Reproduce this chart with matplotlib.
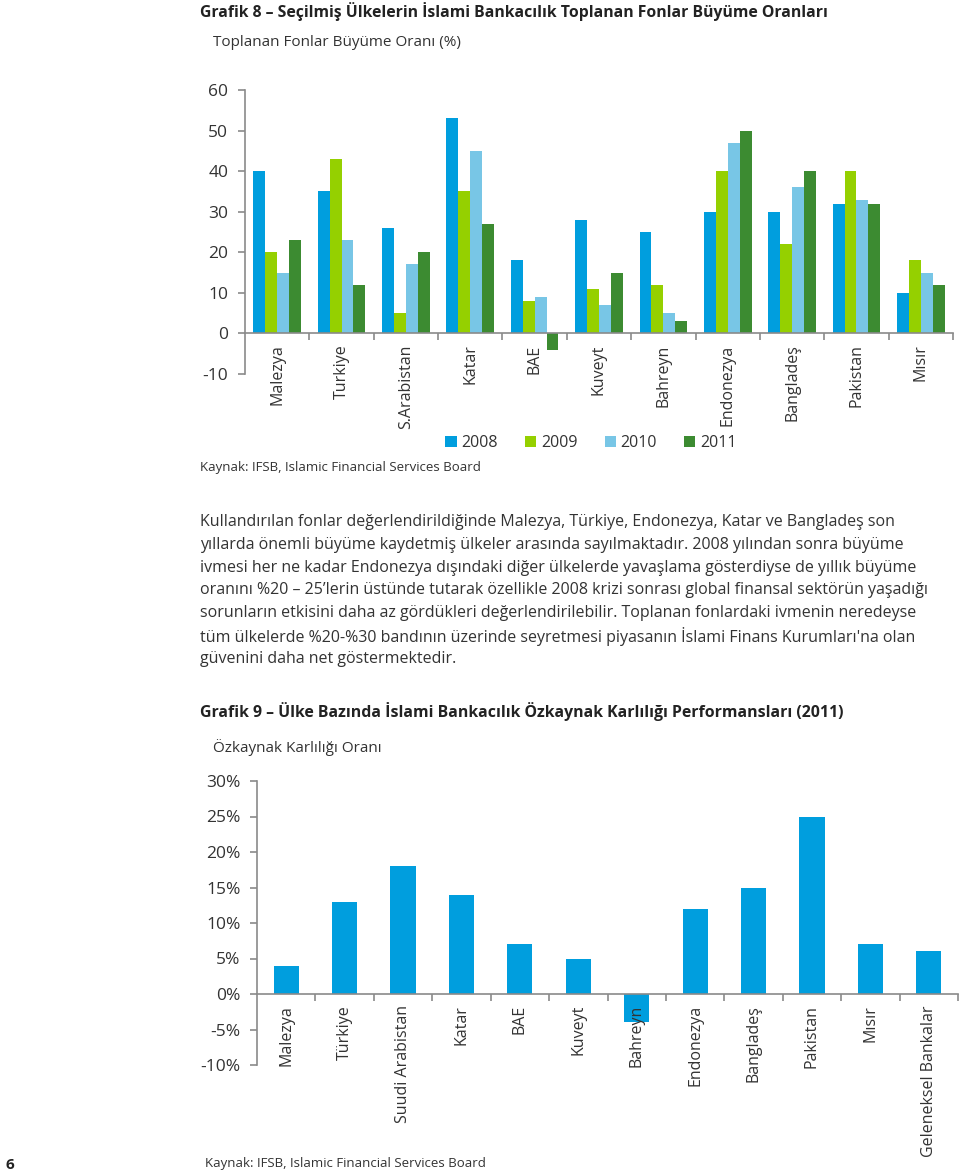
import matplotlib.pyplot as plt
from matplotlib.ticker import FuncFormatter, FixedLocator

plt.rcParams['font.family'] = ['Open Sans', 'DejaVu Sans']
plt.rcParams['axes.unicode_minus'] = False

# Grafik 8 data
countries8 = ['Malezya', 'Turkiye', 'S.Arabistan', 'Katar', 'BAE', 'Kuveyt',
              'Bahreyn', 'Endonezya', 'Bangladeş', 'Pakistan', 'Mısır']
years = ['2008', '2009', '2010', '2011']
g2008 = [40, 35, 26, 53, 18, 28, 25, 30, 30, 32, 10]
g2009 = [20, 43, 5, 35, 8, 11, 12, 40, 22, 40, 18]
g2010 = [15, 23, 17, 45, 9, 7, 5, 47, 36, 33, 15]
g2011 = [23, 12, 20, 27, -4, 15, 3, 50, 40, 32, 12]

# Grafik 9 data
countries9 = ['Malezya', 'Türkiye', 'Suudi Arabistan', 'Katar', 'BAE', 'Kuveyt',
              'Bahreyn', 'Endonezya', 'Bangladeş', 'Pakistan', 'Mısır',
              'Geleneksel Bankalar']
roe = [4, 13, 18, 14, 7, 5, -4, 12, 15, 25, 7, 6]

colors = ['#009ede', '#95d000', '#78c6e6', '#3c8b31']
axis_col = '#8a8a8a'
text_col = '#333333'

W, H = 960, 1175
fig = plt.figure(figsize=(W / 100, H / 100), dpi=100)


def fx(px):
    return px / W


def fy(py):
    return 1 - py / H


def style_axes(ax, n):
    for s in ['top', 'right']:
        ax.spines[s].set_visible(False)
    ax.spines['left'].set_color(axis_col)
    ax.spines['bottom'].set_color(axis_col)
    ax.spines['bottom'].set_position(('data', 0))
    ax.spines['left'].set_linewidth(1.2)
    ax.spines['bottom'].set_linewidth(1.2)
    ax.set_axisbelow(False)
    ax.set_xlim(-0.5, n - 0.5)
    ax.set_xticks(range(n))
    ax.tick_params(axis='x', length=0, pad=8, labelsize=11.5, labelcolor=text_col)
    ax.xaxis.set_minor_locator(FixedLocator([i + 0.5 for i in range(n)]))
    ax.tick_params(axis='x', which='minor', length=5, width=1.2, color=axis_col, direction='out')
    ax.tick_params(axis='y', length=5, width=1.2, color=axis_col, pad=7,
                   labelsize=12.5, labelcolor=text_col)


# ---- Grafik 8 ----
fig.text(fx(200), fy(12), 'Grafik 8 – Seçilmiş Ülkelerin İslami Bankacılık Toplanan Fonlar Büyüme Oranları',
         fontsize=11.3, fontweight='bold', color='#222222', va='center', ha='left')
fig.text(fx(213), fy(43), 'Toplanan Fonlar Büyüme Oranı (%)', fontsize=11,
         color=text_col, va='center', ha='left')

ax1 = fig.add_axes([fx(245), fy(374), fx(953) - fx(245), fy(90) - fy(374)])
bw = 0.185
for k, vals in enumerate([g2008, g2009, g2010, g2011]):
    xs = [i + (k - 1.5) * bw for i in range(len(countries8))]
    ax1.bar(xs, vals, width=bw, color=colors[k], label=years[k], zorder=2)
ax1.set_ylim(-10, 60)
ax1.set_yticks(range(-10, 61, 10))
style_axes(ax1, len(countries8))
ax1.set_xticklabels(countries8, rotation=90)

fig.legend(loc='center', bbox_to_anchor=(fx(591), fy(443)), ncol=4, frameon=False,
           fontsize=11.5, handlelength=0.7, handleheight=0.7, handletextpad=0.3,
           columnspacing=1.7, labelcolor=text_col)

fig.text(fx(200), fy(468), 'Kaynak: IFSB, Islamic Financial Services Board', fontsize=9.5,
         color=text_col, va='center', ha='left')

# ---- Paragraph ----
para = [
    'Kullandırılan fonlar değerlendirildiğinde Malezya, Türkiye, Endonezya, Katar ve Bangladeş son',
    'yıllarda önemli büyüme kaydetmiş ülkeler arasında sayılmaktadır. 2008 yılından sonra büyüme',
    'ivmesi her ne kadar Endonezya dışındaki diğer ülkelerde yavaşlama gösterdiyse de yıllık büyüme',
    'oranını %20 – 25’lerin üstünde tutarak özellikle 2008 krizi sonrası global finansal sektörün yaşadığı',
    'sorunların etkisini daha az gördükleri değerlendirilebilir. Toplanan fonlardaki ivmenin neredeyse',
    'tüm ülkelerde %20-%30 bandının üzerinde seyretmesi piyasanın İslami Finans Kurumları\'na olan',
    'güvenini daha net göstermektedir.',
]
for i, line in enumerate(para):
    fig.text(fx(200), fy(522 + i * 22.8), line, fontsize=11.5, color=text_col,
             va='center', ha='left')

# ---- Grafik 9 ----
fig.text(fx(200), fy(712), 'Grafik 9 – Ülke Bazında İslami Bankacılık Özkaynak Karlılığı Performansları (2011)',
         fontsize=11.4, fontweight='bold', color='#222222', va='center', ha='left')
fig.text(fx(213), fy(748), 'Özkaynak Karlılığı Oranı', fontsize=11,
         color=text_col, va='center', ha='left')

ax2 = fig.add_axes([fx(257), fy(1065), fx(958) - fx(257), fy(781) - fy(1065)])
ax2.bar(range(len(countries9)), roe, width=0.43, color=colors[0], zorder=2)
ax2.set_ylim(-10, 30)
ax2.set_yticks(range(-10, 31, 5))
ax2.yaxis.set_major_formatter(FuncFormatter(lambda v, p: f'{int(v)}%'))
style_axes(ax2, len(countries9))
ax2.set_xticklabels(countries9, rotation=90)

fig.text(fx(205), fy(1163), 'Kaynak: IFSB, Islamic Financial Services Board', fontsize=9.5,
         color=text_col, va='center', ha='left')
fig.text(fx(5), fy(1165), '6', fontsize=11, fontweight='bold', color='#222222',
         va='center', ha='left')

fig.savefig('out.png', dpi=100)
